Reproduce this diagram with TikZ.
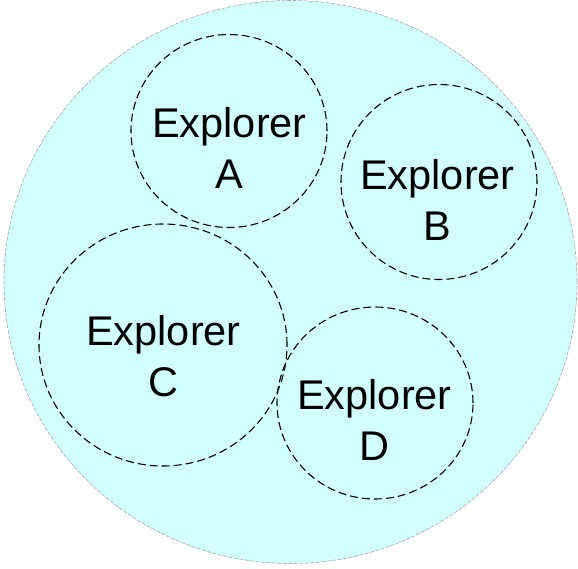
\documentclass[tikz,border=0pt]{standalone}
\usepackage{fontspec}
\setmainfont{Liberation Sans}
\usetikzlibrary{shapes.geometric}
\definecolor{worldfill}{RGB}{210,255,255}
\tikzset{
  worldzone/.style={ellipse,draw=gray!70,line width=0.6pt,dash pattern=on 4pt off 1.5pt,fill=worldfill,inner sep=0pt},
  explorer/.style={ellipse,draw=black,line width=1.1pt,dash pattern=on 8pt off 4pt,inner sep=0pt},
  explorertext/.style={align=center,anchor=base,font=\fontsize{41.5}{51}\selectfont}
}
\begin{document}
\begin{tikzpicture}[x=1pt,y=-1pt]
\useasboundingbox (0,0) rectangle (578,568);
\node[worldzone,minimum width=573pt,minimum height=563pt] (world) at (290.5,282) {};

\node[explorer,minimum width=196pt,minimum height=193pt] (a) at (229,131) {};
\node[explorertext] (alabel) at (229.5,188) {Explorer\\A};

\node[explorer,minimum width=196pt,minimum height=195pt] (b) at (439,182) {};
\node[explorertext] (blabel) at (437.5,240) {Explorer\\B};

\node[explorer,minimum width=248pt,minimum height=242pt] (c) at (163,345) {};
\node[explorertext] (clabel) at (163.5,396) {Explorer\\C};

\node[explorer,minimum width=196pt,minimum height=192pt] (d) at (375,403) {};
\node[explorertext] (dlabel) at (374.5,460) {Explorer\\D};
\end{tikzpicture}
\end{document}
